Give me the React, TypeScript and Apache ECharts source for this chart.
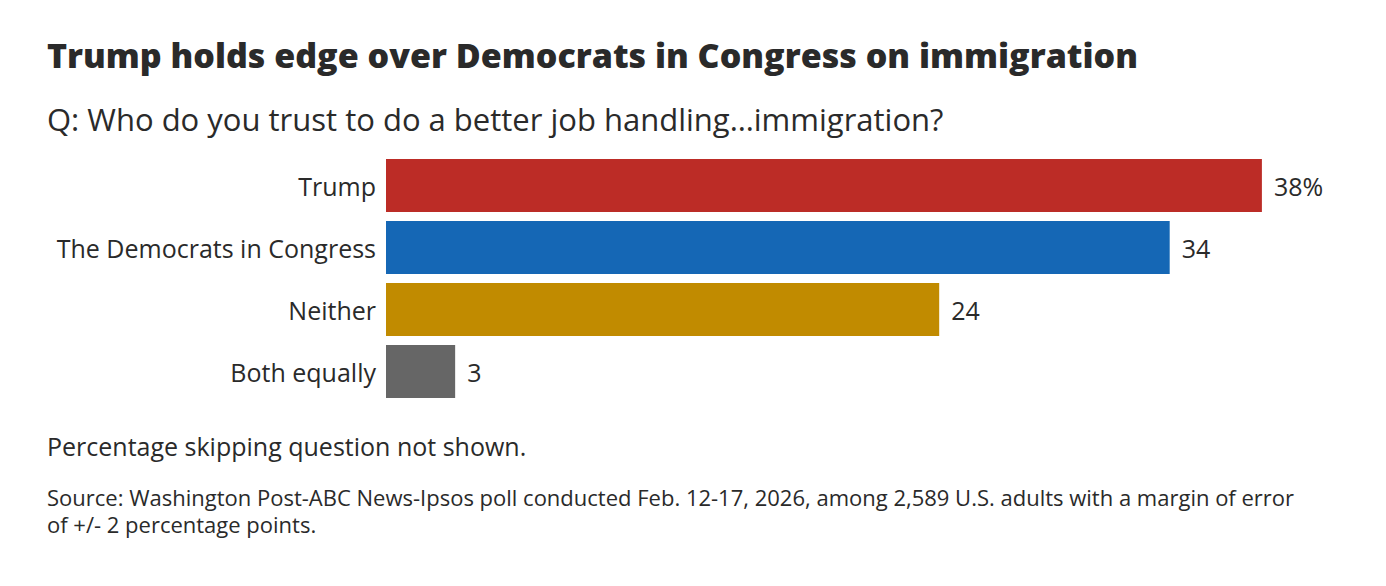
import React, { useEffect, useRef } from "react";
import * as echarts from "echarts";

const categories = ["Trump", "The Democrats in Congress", "Neither", "Both equally"];
const values = [38, 34, 24, 3];
const barColors = ["#bc2c26", "#1567b5", "#c18b00", "#666666"];
const valueLabels = ["38%", "34", "24", "3"];

const titleText = "Trump holds edge over Democrats in Congress on immigration";
const subtitleText = "Q: Who do you trust to do a better job handling…immigration?";
const noteText = "Percentage skipping question not shown.";
const sourceLine1 =
  "Source: Washington Post-ABC News-Ipsos poll conducted Feb. 12-17, 2026, among 2,589 U.S. adults with a margin of error";
const sourceLine2 = "of +/- 2 percentage points.";

const FONT = "'Open Sans', 'Noto Sans', sans-serif";
const INK = "#2a2a2a";

export default function App() {
  const ref = useRef<HTMLDivElement>(null);
  useEffect(() => {
    if (!ref.current) return;
    const chart = echarts.init(ref.current, undefined, { renderer: "svg" });
    const txt = (text: string, y: number, font: string) => ({
      type: "text",
      x: 47,
      y,
      style: { text, font, fill: INK, verticalAlign: "middle", align: "left" },
    });
    chart.setOption({
      animation: false,
      backgroundColor: "#ffffff",
      textStyle: { fontFamily: FONT },
      grid: { left: 386, right: 78, top: 154.5, height: 248, containLabel: false },
      xAxis: {
        type: "value",
        min: 0,
        max: 40,
        show: false,
      },
      yAxis: {
        type: "category",
        data: categories,
        inverse: true,
        axisLine: { show: false },
        axisTick: { show: false },
        splitLine: { show: false },
        axisLabel: { fontSize: 25, color: INK, margin: 10, fontFamily: FONT },
      },
      series: [
        {
          type: "bar",
          barWidth: 53,
          data: values.map((v, i) => ({ value: v, itemStyle: { color: barColors[i] } })),
          label: {
            show: true,
            position: "right",
            distance: 12,
            fontSize: 25,
            color: INK,
            fontFamily: FONT,
            formatter: (p: any) => valueLabels[p.dataIndex],
          },
        },
      ],
      graphic: [
        txt(titleText, 55, `800 34px ${FONT}`),
        txt(subtitleText, 119, `31px ${FONT}`),
        txt(noteText, 446, `25px ${FONT}`),
        txt(sourceLine1, 497, `22px ${FONT}`),
        txt(sourceLine2, 524, `22px ${FONT}`),
      ],
    });
    return () => chart.dispose();
  }, []);
  return (
    <div
      ref={ref}
      style={{ position: "fixed", left: 0, top: 0, width: 1386, height: 586 }}
    />
  );
}
